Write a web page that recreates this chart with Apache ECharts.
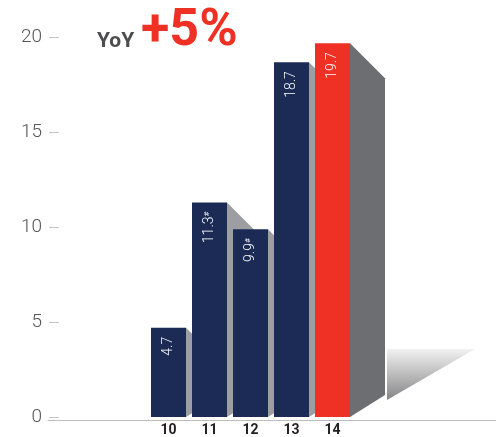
<!DOCTYPE html>
<html><head><meta charset="utf-8">
<script src="https://cdn.jsdelivr.net/npm/echarts@6/dist/echarts.min.js"></script>
<style>html,body{margin:0;padding:0;background:#fff}#c{width:496px;height:437px}</style>
</head><body><div id="c"></div>
<script>
const categories = ['10', '11', '12', '13', '14'];
const values = [4.7, 11.3, 9.9, 18.7, 19.7];
const notes = ['', '#', '#', '', ''];
const highlightIndex = 4;
const yMin = 0, yMax = 20, yStep = 5;
const titleLead = 'YoY';
const titleValue = '+5%';

const NAVY = '#1b2b55', RED = '#ee3124';
const chart = echarts.init(document.getElementById('c'), null, {renderer: 'canvas'});
const barW = 35;

const option = {
  animation: false,
  graphic: [
    {type: 'text', left: 97, top: 31, style: {text: titleLead, fill: '#4d4d4f', font: 'bold 21px Roboto'}},
    {type: 'text', left: 141, top: 6, style: {text: titleValue, fill: RED, font: 'bold 52px Roboto'}}
  ],
  grid: [
    {left: 148, right: 143, top: 37.5, bottom: 17},
    {left: 48, right: 0, top: 37.5, bottom: 17}
  ],
  xAxis: [
    {type: 'category', data: categories, gridIndex: 0,
     axisLine: {show: false}, axisTick: {show: false},
     axisLabel: {margin: 6, fontFamily: 'Roboto', fontWeight: 'bold', fontSize: 14, color: '#231f20'}},
    {type: 'value', gridIndex: 1, min: 0, max: 1, axisLine: {show: true, lineStyle: {color: '#bdbdbd', width: 1}},
     axisTick: {show: false}, axisLabel: {show: false}, splitLine: {show: false}}
  ],
  yAxis: [
    {type: 'value', gridIndex: 0, min: yMin, max: yMax, interval: yStep, offset: 89,
     axisLine: {show: false}, axisTick: {show: true, length: 10, lineStyle: {color: '#c4c4c4'}},
     splitLine: {show: false},
     axisLabel: {margin: 17, fontFamily: 'Roboto', fontWeight: 300, fontSize: 19, color: '#555'}},
    {type: 'value', gridIndex: 1, min: yMin, max: yMax, show: false}
  ],
  series: [
    {
      type: 'custom', xAxisIndex: 0, yAxisIndex: 0, z: 1, clip: false,
      data: values.map((v, i) => [i, v]),
      renderItem: function (params, api) {
        const i = api.value(0);
        const top = api.coord([i, api.value(1)]);
        const base = api.coord([i, 0]);
        const xr = top[0] + barW / 2;
        const yt = top[1], yb = base[1];
        const d = 35;
        const isHi = i === highlightIndex;
        const children = [{
          type: 'polygon',
          shape: {points: [[xr, yt], [xr + d, yt + d], [xr + d, yb - 22], [xr, yb]]},
          style: {fill: isHi ? '#6d6e71' : '#9d9ea1'}
        }];
        if (isHi) {
          children.push({
            type: 'polygon',
            shape: {points: [[xr + 37, yb - 68], [xr + 125, yb - 68], [xr + 37, yb - 17]]},
            style: {fill: new echarts.graphic.LinearGradient(0, 0, 0, 1, [
              {offset: 0, color: '#f2f2f2'}, {offset: 1, color: '#858587'}])}
          });
        }
        return {type: 'group', children: children};
      }
    },
    {
      type: 'bar', xAxisIndex: 0, yAxisIndex: 0, z: 2, barWidth: barW,
      data: values.map((v, i) => ({value: v, itemStyle: {color: i === highlightIndex ? RED : NAVY}})),
      label: {
        show: true, position: 'insideTop', rotate: 90, align: 'right', verticalAlign: 'middle', distance: 9,
        formatter: p => '{v|' + p.value + '}' + (notes[p.dataIndex] ? '{s|' + notes[p.dataIndex] + '}' : ''),
        rich: {
          v: {fontFamily: 'Roboto', fontSize: 14, color: '#fff', fontWeight: 300},
          s: {fontFamily: 'Roboto', fontSize: 8, color: '#fff', verticalAlign: 'top', padding: [0, 0, 6, 0]}
        }
      }
    }
  ]
};
chart.setOption(option);
</script></body></html>
